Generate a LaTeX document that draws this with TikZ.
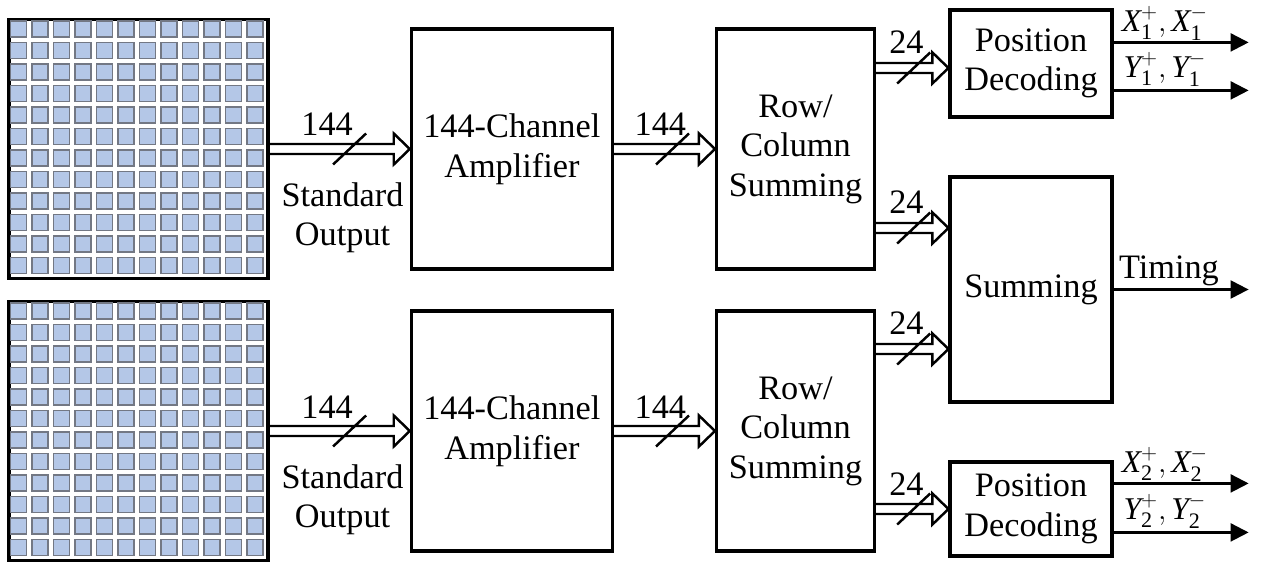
\documentclass[tikz,border=0pt]{standalone}
\usepackage{amsmath}
\usepackage{fontspec}
\setmainfont{Liberation Serif}
\usetikzlibrary{positioning,arrows.meta,calc}
\definecolor{pixFill}{RGB}{180,199,231}
\definecolor{pixDraw}{RGB}{115,120,132}
\newcommand{\pairlbl}[2]{$\textit{#1}_{\textrm{#2}}^{+},\textit{#1}_{\textrm{#2}}^{-}$}
\tikzset{
  block/.style={rectangle,draw,line width=1.8pt,align=center,inner sep=0pt,
    minimum width=#1,font=\fontsize{19.5}{22.5}\selectfont},
  block/.default=3.24cm,
  sensor/.style={rectangle,draw,line width=2pt,minimum size=5.18cm,inner sep=0pt},
  pixel/.style={draw=pixDraw,fill=pixFill,line width=0.8pt},
  bus/.style={line width=1.4pt,line join=miter,to path={
    let \p1=(\tikztostart), \p2=(\tikztotarget) in
    (\x1,\y1+0.1cm) -- (\x2-0.32cm,\y1+0.1cm) -- (\x2-0.32cm,\y1+0.31cm)
    -- (\x2,\y1) -- (\x2-0.32cm,\y1-0.31cm) -- (\x2-0.32cm,\y1-0.1cm) -- (\x1,\y1-0.1cm)
    ({\x1+#1*(\x2-\x1)-0.33cm},\y1-0.31cm) -- ({\x1+#1*(\x2-\x1)+0.33cm},\y1+0.31cm)}},
  bus/.default=0.57,
  sig/.style={-{Triangle[length=0.36cm,width=0.36cm]},line width=1.3pt},
  lbl/.style={inner sep=0pt,font=\fontsize{19.5}{22.5}\selectfont},
  num/.style={lbl,anchor=base},
  pairnum/.style={num,font=\fontsize{18}{21}\selectfont}
}

\begin{document}
\begin{tikzpicture}
  \useasboundingbox (0,0) rectangle (25.24,-11.24);
  % detector arrays
  \node[sensor] (arr1) at (2.77,-2.98) {};
  \node[sensor] (arr2) at (2.77,-8.62) {};
  \foreach \a in {arr1,arr2}
    \foreach \i in {0,...,11}
      \foreach \j in {0,...,11}
        \draw[pixel] ($(\a.north west)+(0.065+0.43*\i,-0.065-0.43*\j)$) rectangle ++(0.32,-0.32);

  % processing chain
  \node[block=4.02cm, minimum height=4.8cm, right=2.8cm of arr1] (amp1) {144-Channel\\Amplifier};
  \node[block=3.16cm, minimum height=4.8cm, right=2.02cm of amp1] (rc1) {Row/\\Column\\Summing};
  \node[block=4.02cm, minimum height=4.8cm, right=2.8cm of arr2] (amp2) {144-Channel\\Amplifier};
  \node[block=3.16cm, minimum height=4.8cm, right=2.02cm of amp2] (rc2) {Row/\\Column\\Summing};
  \node[block, minimum height=2.14cm] (pd1) at (20.62,-1.27) {Position\\Decoding};
  \node[block, minimum height=4.5cm] (sum) at (20.62,-5.79) {Summing};
  \node[block, minimum height=1.88cm] (pd2) at (20.62,-10.18) {Position\\Decoding};

  \coordinate (pd1in) at ($(pd1.west)+(0,-0.09)$);
  \coordinate (sumin1) at ($(sum.west)+(0,1.23)$);
  \coordinate (sumin2) at ($(sum.west)+(0,-1.19)$);

  % buses
  \draw[bus] (arr1.east) to (amp1.west);
  \draw[bus=0.58] (amp1.east) to (rc1.west);
  \draw[bus] (arr2.east) to (amp2.west);
  \draw[bus=0.58] (amp2.east) to (rc2.west);
  \draw[bus=0.52] (rc1.east |- pd1in) to (pd1in);
  \draw[bus=0.52] (rc1.east |- sumin1) to (sumin1);
  \draw[bus=0.52] (rc2.east |- sumin2) to (sumin2);
  \draw[bus=0.52] (rc2.east |- pd2.west) to (pd2.west);

  \node[num] (w1) at ($(arr1.east)!0.41!(amp1.west)+(0,0.26)$) {144};
  \node[num] (w2) at ($(amp1.east)!0.46!(rc1.west)+(0,0.26)$) {144};
  \node[num] (w3) at ($(arr2.east)!0.41!(amp2.west)+(0,0.26)$) {144};
  \node[num] (w4) at ($(amp2.east)!0.46!(rc2.west)+(0,0.26)$) {144};
  \node[num] (w5) at ($(rc1.east |- pd1in)!0.42!(pd1in)+(0,0.28)$) {24};
  \node[num] (w6) at ($(rc1.east |- sumin1)!0.42!(sumin1)+(0,0.28)$) {24};
  \node[num] (w7) at ($(rc2.east |- sumin2)!0.42!(sumin2)+(0,0.28)$) {24};
  \node[num] (w8) at ($(rc2.east |- pd2.west)!0.42!(pd2.west)+(0,0.28)$) {24};
  \node[lbl, align=center, anchor=north] (so1) at ($(arr1.east)!0.52!(amp1.west)+(0,-0.66)$) {Standard\\Output};
  \node[lbl, align=center, anchor=north] (so2) at ($(arr2.east)!0.52!(amp2.west)+(0,-0.66)$) {Standard\\Output};

  % outputs
  \coordinate (x1out) at ($(pd1.north east)+(2.7,-0.68)$);
  \coordinate (y1out) at ($(pd1.north east)+(2.7,-1.64)$);
  \coordinate (tout) at ($(sum.east)+(2.7,0)$);
  \coordinate (x2out) at ($(pd2.north east)+(2.7,-0.46)$);
  \coordinate (y2out) at ($(pd2.north east)+(2.7,-1.44)$);
  \draw[sig] (pd1.east |- x1out) -- node[pairnum, pos=0.38, yshift=0.22cm] (lx1) {\pairlbl{X}{1}} (x1out);
  \draw[sig] (pd1.east |- y1out) -- node[pairnum, pos=0.38, yshift=0.26cm] (ly1) {\pairlbl{Y}{1}} (y1out);
  \draw[sig] (sum.east) -- node[num, pos=0.41, yshift=0.22cm] (lt) {Timing} (tout);
  \draw[sig] (pd2.east |- x2out) -- node[pairnum, pos=0.38, yshift=0.22cm] (lx2) {\pairlbl{X}{2}} (x2out);
  \draw[sig] (pd2.east |- y2out) -- node[pairnum, pos=0.38, yshift=0.26cm] (ly2) {\pairlbl{Y}{2}} (y2out);
\end{tikzpicture}
\end{document}
